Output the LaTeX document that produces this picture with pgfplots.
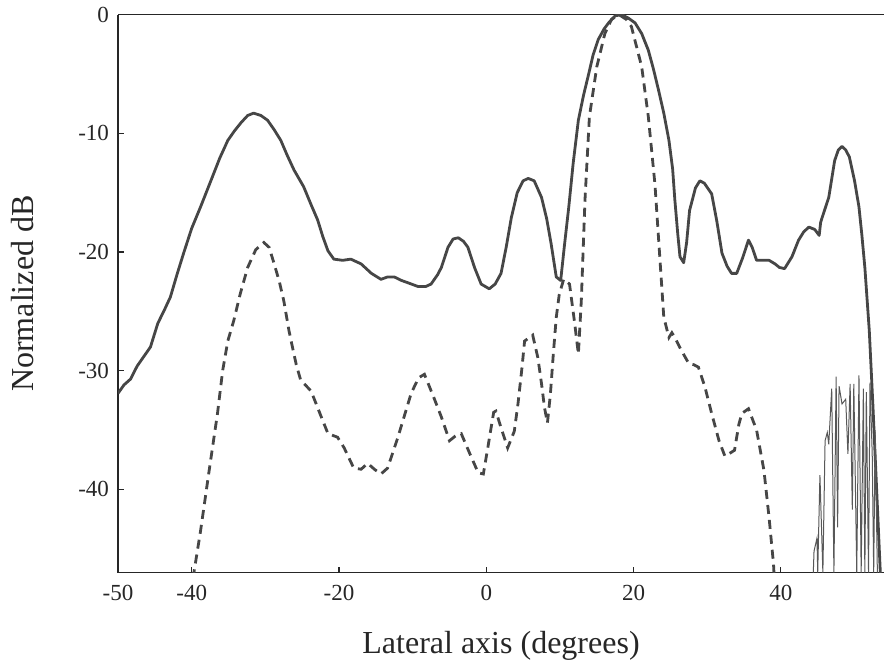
\documentclass[border=0pt]{standalone}
\usepackage{fontspec}
\setmainfont{Liberation Serif}
\usepackage{pgfplots}
\pgfplotsset{compat=1.18}
\definecolor{curve}{RGB}{70,70,70}

\begin{document}
\begin{tikzpicture}
\begin{axis}[
  scale only axis, width=382.75pt, height=278.8pt,
  xmin=-50, xmax=54, ymin=-47, ymax=0,
  axis x line=box, axis y line=left,
  axis line style={-, black!85, line width=0.6pt},
  xtick pos=left, ytick pos=left, tick align=inside,
  major tick length=3pt, tick style={black!85, line width=0.6pt},
  xtick={-50,-40,-20,0,20,40}, xticklabels={-50,-40,-20,0,20,40},
  ytick={-40,-30,-20,-10,0}, yticklabels={-40,-30,-20,-10,0},
  ticklabel style={font=\fontsize{11.5}{13}\selectfont, black!85},
  xticklabel style={yshift=-3pt},
  yticklabel style={xshift=-1pt},
  xlabel={Lateral axis (degrees)}, ylabel={Normalized dB},
  label style={font=\fontsize{16}{18}\selectfont, black!85},
  xlabel style={at={(axis description cs:0.5,0)}, anchor=base, yshift=-40.5pt},
  ylabel style={at={(axis description cs:-0.111,0.5)}, anchor=base},
  clip=true,
]
% solid: wide beam
\addplot[curve, line width=1.4pt, line join=round] coordinates {
(-50,-31.9) (-49.2,-31.2) (-48.3,-30.7) (-47.4,-29.6) (-46.5,-28.8) (-45.6,-28.0)
(-44.6,-26.0) (-43.8,-25.0) (-42.9,-23.8) (-42.0,-21.9) (-41.1,-20.1) (-40.0,-18.0)
(-38.8,-16.2) (-37.4,-14.0) (-36.2,-12.1) (-35.1,-10.6) (-34.2,-9.8) (-33.3,-9.1)
(-32.4,-8.5) (-31.6,-8.3) (-30.6,-8.5) (-29.7,-8.9) (-28.8,-9.7) (-27.9,-10.6)
(-27.0,-11.9) (-26.1,-13.1) (-24.8,-14.5) (-23.8,-16.0) (-22.9,-17.3) (-22.2,-18.7)
(-21.5,-19.9) (-20.7,-20.6) (-19.5,-20.7) (-18.4,-20.6) (-17.0,-21.0) (-15.6,-21.8)
(-14.3,-22.3) (-13.4,-22.1) (-12.5,-22.1) (-11.5,-22.4) (-10.6,-22.6) (-9.3,-22.9)
(-8.2,-22.9) (-7.5,-22.7) (-6.6,-21.9) (-6.1,-21.3) (-5.2,-19.6) (-4.5,-18.9)
(-3.8,-18.8) (-3.1,-19.1) (-2.5,-19.6) (-1.6,-21.3) (-0.7,-22.7) (0.4,-23.1)
(1.2,-22.7) (2.0,-21.8) (2.7,-19.6) (3.4,-17.1) (4.2,-15.0) (5.0,-14.0)
(5.7,-13.8) (6.5,-14.0) (7.5,-15.4) (8.2,-17.2) (8.8,-19.3) (9.5,-22.1)
(10.1,-22.4) (10.6,-19.5) (11.2,-16.2) (11.8,-12.5) (12.5,-8.9) (13.2,-6.8)
(13.9,-5.0) (14.5,-3.4) (15.2,-2.1) (16.0,-1.2) (16.6,-0.7) (17.5,-0.1)
(18.4,0) (19.3,-0.3) (20.2,-0.7) (21.1,-1.6) (22.0,-3.0) (22.7,-4.6)
(23.4,-6.4) (24.1,-8.3) (24.8,-10.6) (25.3,-13.0) (25.6,-15.6) (26.0,-18.5)
(26.3,-20.4) (26.8,-20.9) (27.2,-19.2) (27.6,-16.5) (28.4,-14.6) (29.0,-14.0)
(29.6,-14.2) (30.6,-15.1) (31.3,-17.4) (32.0,-20.1) (32.7,-21.2) (33.3,-21.8)
(34.0,-21.8) (34.8,-20.5) (35.6,-19.0) (36.1,-19.6) (36.7,-20.7) (37.5,-20.7)
(38.4,-20.7) (39.2,-21.0) (39.8,-21.3) (40.5,-21.4) (41.5,-20.4) (42.4,-19.0)
(43.1,-18.3) (43.8,-17.9) (44.6,-18.1) (45.2,-18.6) (45.4,-17.5) (45.6,-17.1)
(46.5,-15.4) (47.3,-12.3) (47.8,-11.4) (48.3,-11.1) (48.8,-11.4) (49.3,-12.0)
(50.0,-14.0) (50.6,-16.2) (51.0,-18.6) (51.4,-21.3) (52.0,-26.6) (52.5,-33.0)
(53.0,-40.0) (53.5,-47) (53.7,-50)
};
% dashed: narrow beam
\addplot[curve, line width=1.4pt, dash pattern=on 4.5pt off 3pt] coordinates {
(-40.2,-50) (-39.7,-47) (-38.8,-43.5) (-37.7,-38.7) (-36.5,-33.6) (-35.8,-30.0)
(-35.1,-27.5) (-34.3,-25.8) (-33.4,-23.5) (-32.4,-21.3) (-31.3,-19.8) (-30.2,-19.2)
(-29.5,-19.6) (-28.8,-21.0) (-28.1,-22.5) (-27.5,-24.1) (-26.8,-26.6) (-26.5,-27.5)
(-25.8,-29.5) (-25.2,-30.8) (-23.8,-31.7) (-22.4,-33.9) (-21.5,-35.3) (-20.2,-35.6)
(-19.3,-36.5) (-18.0,-38.2) (-17.0,-38.3) (-16.1,-37.8) (-15.2,-38.3) (-14.3,-38.7)
(-13.4,-38.2) (-12.0,-35.6) (-10.2,-31.9) (-9.2,-30.6) (-8.4,-30.3) (-7.1,-32.3)
(-6.1,-33.9) (-5.0,-35.9) (-4.2,-35.5) (-3.4,-35.3) (-2.3,-36.9) (-1.1,-38.6)
(-0.4,-38.7) (0.2,-36.5) (1.0,-33.5) (1.3,-33.4) (2.0,-34.8) (2.9,-36.5)
(3.8,-35.1) (4.3,-32.8) (4.8,-30.0) (5.2,-27.5) (6.3,-27.0) (7.0,-28.9)
(7.5,-31.1) (7.9,-33.1) (8.3,-34.4) (8.7,-32.0) (9.1,-28.6) (9.5,-25.5)
(9.9,-23.6) (10.5,-22.3) (11.3,-22.7) (12.0,-26.0) (12.5,-28.6) (12.9,-24.1)
(13.4,-15.6) (14.0,-8.6) (15.0,-4.4) (16.1,-1.6) (17.0,-0.4) (18.0,0)
(19.0,-0.4) (19.7,-1.0) (21.1,-4.4) (22.0,-8.6) (22.9,-14.3) (23.5,-19.9)
(24.1,-25.5) (24.8,-27.2) (25.2,-26.8) (25.6,-27.2) (26.5,-28.3) (27.5,-29.4)
(28.2,-29.5) (28.8,-29.7) (29.7,-31.4) (30.6,-33.6) (31.6,-35.9) (32.4,-37.2)
(33.2,-36.9) (33.7,-36.7) (34.3,-34.5) (34.7,-33.6) (35.6,-33.2) (36.7,-35.0)
(37.7,-38.4) (38.4,-42.4) (39.0,-46.3) (39.3,-50)
};
% thin noisy tail
\addplot[curve!90, line width=0.5pt] coordinates {
(44.4,-47) (44.5,-45.2) (44.9,-44.1) (45.0,-47) (45.3,-38.8) (45.7,-47)
(46.0,-35.9) (46.3,-35.2) (46.5,-36.2) (46.9,-31.5) (47.2,-47) (47.5,-30.5)
(47.7,-43.2) (47.9,-31.3) (48.3,-32.8) (48.8,-32.4) (49.1,-37.0) (49.4,-31.1)
(49.7,-41.7) (49.9,-31.1) (50.3,-47) (50.6,-30.4) (50.9,-47) (51.2,-31.5)
(51.4,-47) (51.6,-31.8) (51.9,-47) (52.1,-31.0) (52.4,-37.0) (52.6,-47)
(52.8,-35) (53.1,-47)
};
\end{axis}
\pgfresetboundingbox
\path ([shift={(-59pt,-45.5pt)}]current axis.south west)
  rectangle ([shift={(0pt,7.3pt)}]current axis.north east);
\end{tikzpicture}
\end{document}
